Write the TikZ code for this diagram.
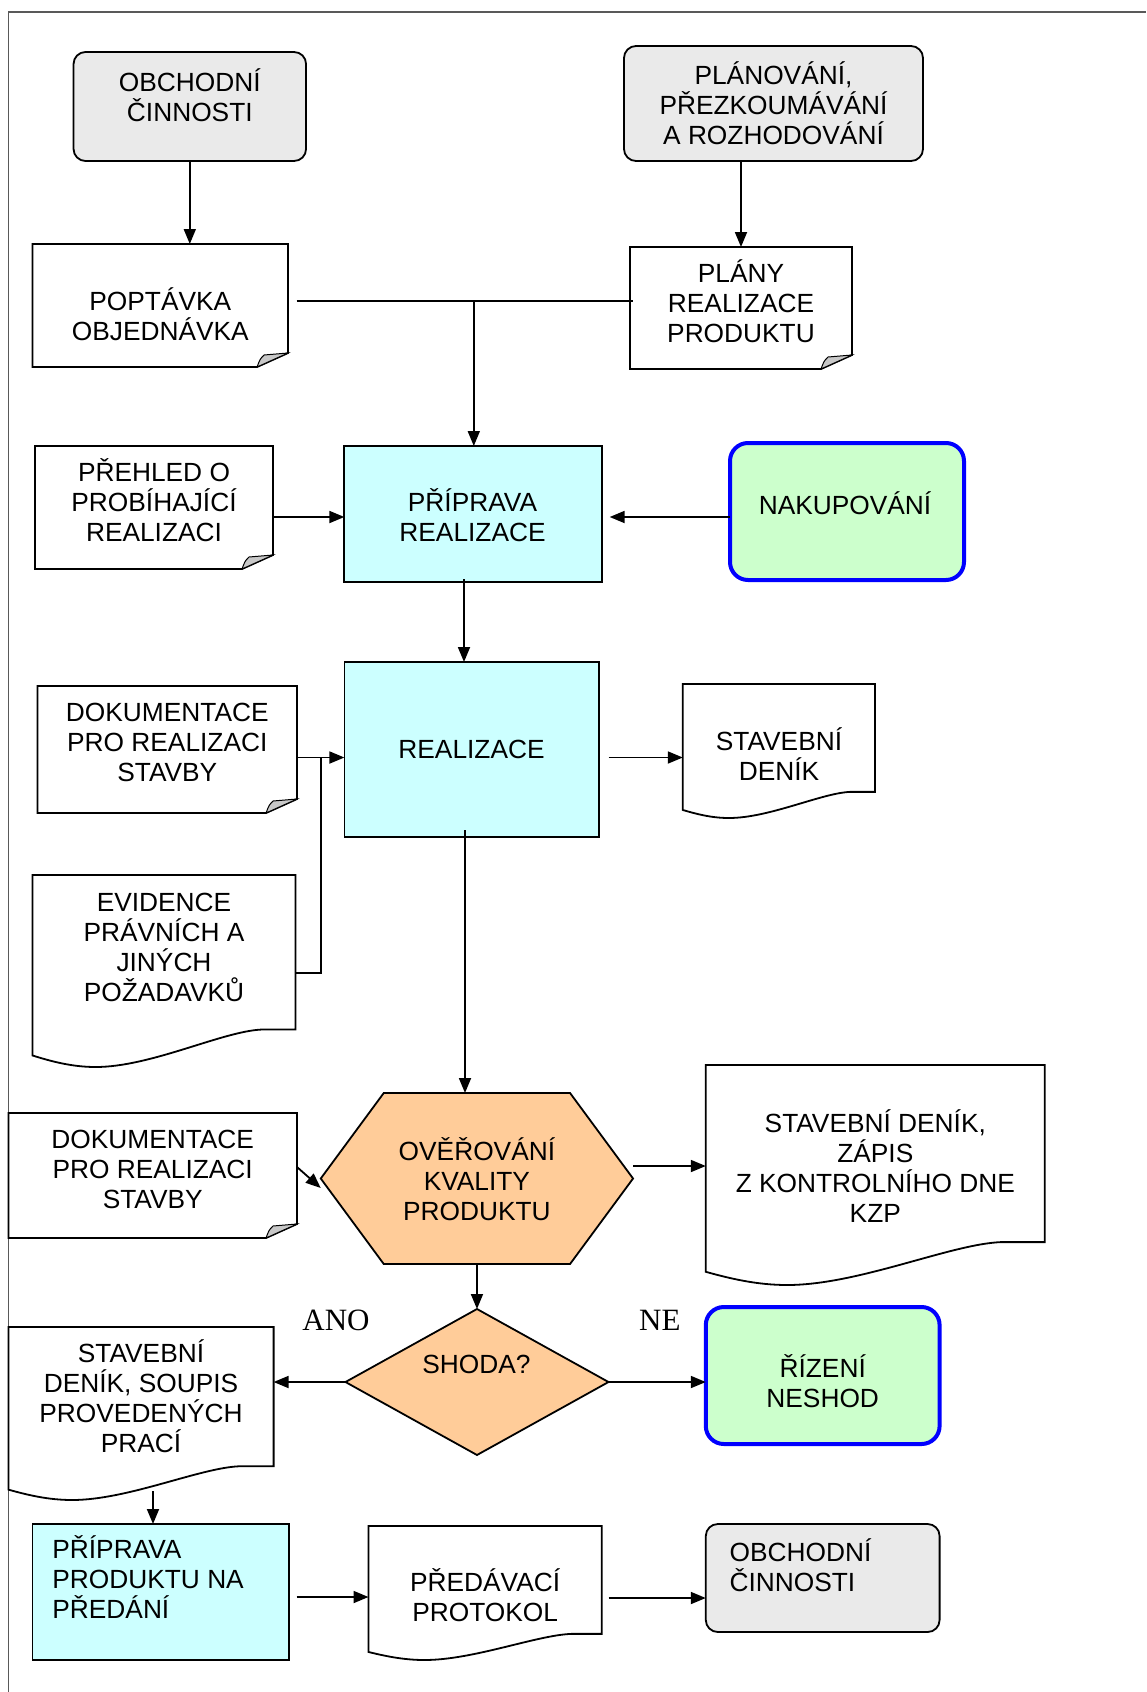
\documentclass[tikz,border=0pt]{standalone}
\usepackage{fontspec}
\setmainfont{Liberation Sans}
\newfontfamily\anofont{Liberation Serif}
\usetikzlibrary{arrows.meta, calc, shapes.geometric}

\definecolor{seda}{HTML}{EAEAEA}
\definecolor{azur}{HTML}{CCFFFF}
\definecolor{zelena}{HTML}{CCFFCC}
\definecolor{oranz}{HTML}{FFCC99}
\definecolor{ohyb}{HTML}{C8C8C8}

\tikzset{
  shp/.style={inner sep=0pt, outer sep=0pt},
  cinnost/.style={shp, draw, fill=seda, rounded corners=12pt},
  proces/.style={shp, draw, fill=azur},
  zelbox/.style={shp, draw=blue, line width=4pt, fill=zelena, rounded corners=18pt},
  txt/.style={align=center, inner sep=0pt, font=\fontsize{26.3}{30}\selectfont},
  odp/.style={inner sep=0pt, font=\anofont\fontsize{31}{36}\selectfont},
  docline/.style={line width=1.8pt},
}

% dokument s ohnutym rohem
\newcommand\folddoc[1]{%
  \draw[docline] (#1.north west) -- (#1.north east) -- ([yshift=14pt]#1.south east)
    -- ([xshift=-31pt]#1.south east) -- (#1.south west) -- cycle;
  \filldraw[fill=ohyb, line width=1pt] ([xshift=-31pt]#1.south east)
    .. controls ([xshift=-28pt,yshift=8pt]#1.south east) .. ([xshift=-24pt,yshift=12pt]#1.south east)
    -- ([yshift=14pt]#1.south east) -- cycle;
}
% dokument s vlnitym spodkem
\newcommand\wavedoc[1]{%
  \draw[docline] let \p1=(#1.south west), \p2=(#1.north east),
      \n1={\x2-\x1}, \n2={\y2-\y1} in
    (\x1,\y2) -- (\x2,\y2) -- (\x2,\y1+0.195*\n2) -- (\x1+0.87*\n1,\y1+0.195*\n2)
    .. controls (\x1+0.72*\n1,\y1+0.185*\n2) and (\x1+0.45*\n1,\y1) .. (\x1+0.24*\n1,\y1)
    .. controls (\x1+0.15*\n1,\y1) and (\x1+0.07*\n1,\y1+0.03*\n2) .. (\x1,\y1+0.06*\n2) -- cycle;
}

\begin{document}
\begin{tikzpicture}[x=1pt, y=-1pt, >={Triangle[length=15pt, width=12pt]}, line width=1.8pt]
  \useasboundingbox (0,0) rectangle (1146,1692);
  % ramecek
  \draw[black!65, line width=1.6pt] (8.3,1692) -- (8.3,11.7) -- (1146,11.7);

  % horni cast
  \node[cinnost, minimum width=232.5pt, minimum height=109pt] (obch1) at (189.8,106.5) {};
  \node[txt] (obch1t) at (189.8,95) {OBCHODNÍ\\ČINNOSTI};
  \node[cinnost, minimum width=299pt, minimum height=115pt] (plan) at (773.5,103.5) {};
  \node[txt] (plant) at (773.5,103.6) {PLÁNOVÁNÍ,\\PŘEZKOUMÁVÁNÍ\\A ROZHODOVÁNÍ};

  \node[shp, minimum width=255.5pt, minimum height=123pt] (poptavka) at (160.3,305.5) {};
  \folddoc{poptavka}
  \node[txt] (poptavkat) at (160.3,314) {POPTÁVKA\\OBJEDNÁVKA};
  \node[shp, minimum width=222pt, minimum height=122pt] (plany) at (741,308) {};
  \folddoc{plany}
  \node[txt] (planyt) at (741,301.6) {PLÁNY\\REALIZACE\\PRODUKTU};

  % priprava
  \node[shp, minimum width=238pt, minimum height=123pt] (prehled) at (154,507.5) {};
  \folddoc{prehled}
  \node[txt] (prehledt) at (154,500.4) {PŘEHLED O\\PROBÍHAJÍCÍ\\REALIZACI};
  \node[proces, minimum width=257.3pt, minimum height=136pt] (prip) at (473,514) {};
  \node[txt] (pript) at (472.5,515) {PŘÍPRAVA\\REALIZACE};
  \node[zelbox, minimum width=234pt, minimum height=137pt] (nakup) at (847,511.5) {};
  \node[txt] (nakupt) at (845,503.3) {NAKUPOVÁNÍ};

  % realizace
  \node[shp, minimum width=259.5pt, minimum height=127pt] (dok1) at (167.3,749.5) {};
  \folddoc{dok1}
  \node[txt] (dok1t) at (167.3,742.3) {DOKUMENTACE\\PRO REALIZACI\\STAVBY};
  \node[proces, minimum width=254.6pt, minimum height=175pt] (real) at (471.7,749.5) {};
  \node[txt] (realt) at (471.5,749) {REALIZACE};
  \node[shp, minimum width=192.2pt, minimum height=134pt] (stden) at (778.9,751) {};
  \wavedoc{stden}
  \node[txt] (stdent) at (779,753.8) {STAVEBNÍ\\DENÍK};
  \node[shp, minimum width=263pt, minimum height=192pt] (evid) at (164,971) {};
  \wavedoc{evid}
  \node[txt] (evidt) at (164,947.4) {EVIDENCE\\PRÁVNÍCH A\\JINÝCH\\POŽADAVKŮ};

  % overovani
  \node[shp, minimum width=288.6pt, minimum height=125pt] (dok2) at (152.7,1175.5) {};
  \folddoc{dok2}
  \node[txt] (dok2t) at (152.7,1169.4) {DOKUMENTACE\\PRO REALIZACI\\STAVBY};
  \node[shp, minimum width=312.3pt, minimum height=171pt] (over) at (476.9,1178.5) {};
  \draw[fill=oranz] (over.west) -- ([xshift=63pt]over.north west) -- ([xshift=-63pt]over.north east)
    -- (over.east) -- ([xshift=-63pt]over.south east) -- ([xshift=63pt]over.south west) -- cycle;
  \node[txt] (overt) at (476.9,1178.8) {OVĚŘOVÁNÍ\\KVALITY\\PRODUKTU};
  \node[shp, minimum width=339pt, minimum height=220pt] (zapis) at (875.3,1175) {};
  \wavedoc{zapis}
  \node[txt] (zapist) at (875.3,1165.8) {STAVEBNÍ DENÍK,\\ZÁPIS\\Z KONTROLNÍHO DNE\\KZP};

  % shoda
  \node[shp, diamond, draw, fill=oranz, minimum width=263pt, minimum height=146pt] (shoda) at (477,1382) {};
  \node[txt] (shodat) at (476.5,1364) {SHODA?};
  \node[odp, anchor=base] (ano) at (336,1330.7) {ANO};
  \node[odp, anchor=base] (ne) at (659.8,1330.7) {NE};
  \node[shp, minimum width=265.2pt, minimum height=173pt] (soupis) at (141,1413.5) {};
  \wavedoc{soupis}
  \node[txt] (soupist) at (141,1396.6) {STAVEBNÍ\\DENÍK, SOUPIS\\PROVEDENÝCH\\PRACÍ};
  \node[zelbox, minimum width=233.8pt, minimum height=137pt] (rizeni) at (822.7,1375.5) {};
  \node[txt] (rizenit) at (822.7,1381.6) {ŘÍZENÍ\\NESHOD};

  % predani
  \node[proces, minimum width=256.5pt, minimum height=136pt] (pripprod) at (160.8,1592) {};
  \node[txt, align=left, anchor=north west] (pripprodt) at (51.5,1534.8) {PŘÍPRAVA\\PRODUKTU NA\\PŘEDÁNÍ};
  \node[shp, minimum width=233.2pt, minimum height=134pt] (predav) at (485.1,1593) {};
  \wavedoc{predav}
  \node[txt] (predavt) at (485.1,1595.3) {PŘEDÁVACÍ\\PROTOKOL};
  \node[cinnost, minimum width=233.8pt, minimum height=108pt] (obch2) at (822.7,1578) {};
  \node[txt, align=left, anchor=north west] (obch2t) at (728.7,1538.2) {OBCHODNÍ\\ČINNOSTI};

  % spojnice
  \draw[->] (obch1.south) -- (obch1.south |- poptavka.north);
  \draw[->] (plany.north |- plan.south) -- (plany.north);
  \coordinate (uzel) at (473.8,301);
  \draw ([xshift=8.6pt,yshift=4.5pt]poptavka.east) -- ([xshift=3pt,yshift=7pt]plany.west);
  \draw[->] (uzel) -- (uzel |- prip.north);
  \draw[->] ([yshift=-9.5pt]prehled.east) -- ([yshift=-3pt]prip.west);
  \draw[->, shorten >=8pt] ([yshift=-5.5pt]nakup.west) -- ([yshift=-3pt]prip.east);
  \draw[->] ([xshift=-9pt,yshift=3pt]prip.south) -- ([xshift=-7.7pt]real.north);
  \draw[->] ([yshift=-8pt]dok1.east) -- ([yshift=-8pt]real.west);
  \coordinate (zlom) at (320.7,757.5);
  \draw ([yshift=-2pt]evid.east) -| (zlom);
  \draw[->] ([xshift=9.6pt,yshift=-8pt]real.east) -- ([yshift=-6.5pt]stden.west);
  \coordinate (r1) at ([xshift=-6.7pt,yshift=7pt]real.south);
  \draw[->] (r1) -- (r1 |- over.north);
  \draw[->] ([yshift=8.5pt]dok2.east) -- ([yshift=-9.5pt]over.west);
  \draw[->] ([yshift=12.5pt]over.east) -- ([yshift=9pt]zapis.west);
  \draw[->] (over.south) -- (shoda.north);
  \draw[->] (shoda.west) -- (shoda.west -| soupis.east);
  \draw[->] (shoda.east) -- (shoda.east -| rizeni.west);
  \coordinate (s1) at ([xshift=12pt,yshift=9pt]soupis.south);
  \draw[->] (s1) -- (s1 |- pripprod.north);
  \draw[->] ([xshift=7.6pt,yshift=-5pt]pripprod.east) -- ([yshift=-4pt]predav.west);
  \draw[->] ([xshift=7pt,yshift=-5pt]predav.east) -- ([yshift=-20pt]obch2.west);
\end{tikzpicture}
\end{document}
